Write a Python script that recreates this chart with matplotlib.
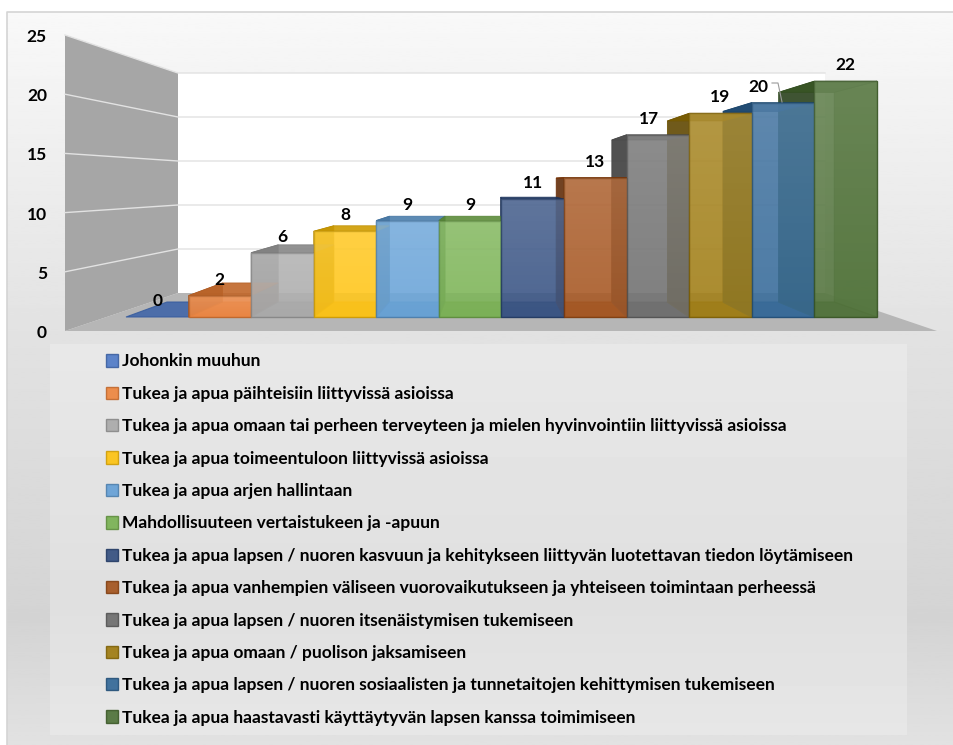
import matplotlib
matplotlib.use('Agg')
import numpy as np
import matplotlib.pyplot as plt
from matplotlib.patches import Polygon, Patch
from matplotlib.colors import to_rgb

categories = ['Johonkin muuhun',
              'Tukea ja apua päihteisiin liittyvissä asioissa',
              'Tukea ja apua omaan tai perheen terveyteen ja mielen hyvinvointiin liittyvissä asioissa',
              'Tukea ja apua toimeentuloon liittyvissä asioissa',
              'Tukea ja apua arjen hallintaan',
              'Mahdollisuuteen vertaistukeen ja -apuun',
              'Tukea ja apua lapsen / nuoren kasvuun ja kehitykseen liittyvän luotettavan tiedon löytämiseen',
              'Tukea ja apua vanhempien väliseen vuorovaikutukseen ja yhteiseen toimintaan perheessä',
              'Tukea ja apua lapsen / nuoren itsenäistymisen tukemiseen',
              'Tukea ja apua omaan / puolison jaksamiseen',
              'Tukea ja apua lapsen / nuoren sosiaalisten ja tunnetaitojen kehittymisen tukemiseen',
              'Tukea ja apua haastavasti käyttäytyvän lapsen kanssa toimimiseen']
values = [0, 2, 6, 8, 9, 9, 11, 13, 17, 19, 20, 22]
colors = ['#4472c4', '#ed7d31', '#a5a5a5', '#ffc000', '#5b9bd5', '#70ad47',
          '#264478', '#9e480e', '#636363', '#997300', '#255e91', '#43682b']
y_ticks = [0, 5, 10, 15, 20, 25]
label_shift = {8: -9, 10: -25}

plt.rcParams['font.family'] = ['Lato', 'DejaVu Sans']

# projection of the fake 3d box, in picture pixels
FRONT_X0, FRONT_DX, FRONT_Y0, FRONT_SY = 126, 62.58, 317, 10.72
BACK_X0, BACK_DX, BACK_Y0, BACK_SY = 167, 55.6, 302, 9.53


def front(i, v):
    return FRONT_X0 + FRONT_DX * i, FRONT_Y0 - FRONT_SY * v


def back(i, v):
    return BACK_X0 + BACK_DX * i, BACK_Y0 - BACK_SY * v


def shade(c, f):
    return tuple(np.array(to_rgb(c)) * f)


def lighten(c, f):
    rgb = np.array(to_rgb(c))
    return tuple(rgb + (1 - rgb) * f)


fig = plt.figure(figsize=(9.54, 7.45), dpi=100)
ax = fig.add_axes([0, 0, 1, 1])
ax.axis('off')

# chart background and legend panel both have a soft vertical gradient
ys = np.linspace(12, 745, 256)
grad = np.interp(ys, [12, 340, 620, 745], [0.975, 0.885, 0.83, 0.885]).reshape(-1, 1)
ax.imshow(grad, extent=(7, 954, 745, 12), cmap='gray', vmin=0, vmax=1, aspect='auto', zorder=0)
ys = np.linspace(344, 735, 128)
grad = np.interp(ys, [344, 600, 735], [0.91, 0.875, 0.905]).reshape(-1, 1)
ax.imshow(grad, extent=(50, 907, 735, 344), cmap='gray', vmin=0, vmax=1, aspect='auto', zorder=1)
ax.plot([7, 7, 954], [745, 12, 12], color='#d4d4d4', lw=1.2, zorder=1)
ax.set_xlim(0, 954)
ax.set_ylim(745, 0)

# walls and floor
ax.add_patch(Polygon([(178, 73), (825, 73), (825, 293), (178, 293)], fc='white', ec='none', zorder=1))
ax.add_patch(Polygon([(65, 35), (178, 73), (178, 293), (65, 331)], fc='#a6a6a6', ec='none', zorder=1))
ax.add_patch(Polygon([(65, 331), (178, 293), (825, 293), (937, 331)], fc='#b6b6b6', ec='none', zorder=1))
for t in y_ticks[1:]:
    yb = 293 - 8.8 * t
    yf = 331 - 11.84 * t
    ax.plot([65, 178, 825], [yf, yb, yb], color='#e2e2e2', lw=1, zorder=2)
    ax.text(47, yf + 2, str(t), ha='right', va='center', fontsize=12.5, fontweight='bold', color='black', zorder=8)
ax.text(47, 333, '0', ha='right', va='center', fontsize=12.5, fontweight='bold', color='black', zorder=8)

# bars: inner faces first, the front faces go over all of them
for i, (v, c) in enumerate(zip(values, colors)):
    fl, fr = front(i, v), front(i + 1, v)
    bl, br = back(i, v), back(i + 1, v)
    fl0, fr0 = front(i, 0), front(i + 1, 0)
    bl0, br0 = back(i, 0), back(i + 1, 0)
    ax.add_patch(Polygon([bl0, br0, fr0, fl0], fc=shade(c, 0.85), ec=shade(c, 0.8), lw=0.8, alpha=0.85, zorder=3))
    if v > 0:
        ax.add_patch(Polygon([bl, br, br0, bl0], fc=c, ec='none', alpha=0.3, zorder=3))
        ax.add_patch(Polygon([fl, bl, bl0, fl0], fc=shade(c, 0.6), ec=shade(c, 0.7), lw=0.6, alpha=0.85, zorder=3))
        ax.add_patch(Polygon([fr, br, br0, fr0], fc=c, ec=shade(c, 0.8), lw=0.6, alpha=0.8, zorder=3))
for i, (v, c) in enumerate(zip(values, colors)):
    if v == 0:
        continue
    fl, fr = front(i, v), front(i + 1, v)
    bl, br = back(i, v), back(i + 1, v)
    fl0, fr0 = front(i, 0), front(i + 1, 0)
    ax.add_patch(Polygon([fl, bl, br, fr], fc=shade(c, 0.8), ec=shade(c, 0.75), lw=0.6, alpha=0.85, zorder=4))
    face = Polygon([fl, fr, fr0, fl0], fc=lighten(c, 0.1), ec=shade(c, 0.8), lw=1, alpha=0.86, zorder=5)
    ax.add_patch(face)
    # gloss, a little lighter at the top of each bar
    gloss = np.ones((64, 1, 4))
    gloss[:, 0, 3] = np.linspace(0.1, 0, 64)
    im = ax.imshow(gloss, extent=(fl[0], fr[0], fl0[1], fl[1]), aspect='auto', zorder=6)
    im.set_clip_path(face)
ax.set_xlim(0, 954)
ax.set_ylim(745, 0)

# value labels
for i, v in enumerate(values):
    x = front(i + 0.5, v)[0] + label_shift.get(i, 0)
    ax.text(x, front(i, v)[1] - 16, str(v), ha='center', va='center', fontsize=12.5, fontweight='bold', color='black', zorder=8)
ax.plot([772, 778, 782], [83, 83, 102], color='#9a9a9a', lw=0.8, zorder=7)

handles = [Patch(fc=c, ec=shade(c, 0.8), alpha=0.85, lw=1) for c in colors]
leg = ax.legend(handles, categories, loc='upper left', bbox_to_anchor=(106 / 954, 1 - 353.5 / 745),
                frameon=False, prop={'weight': 'bold', 'size': 12.55},
                labelspacing=0.94, handlelength=0.67, handleheight=0.72, handletextpad=0.24,
                borderpad=0, borderaxespad=0)
leg.set_zorder(8)

fig.savefig('out.png', dpi=100)
